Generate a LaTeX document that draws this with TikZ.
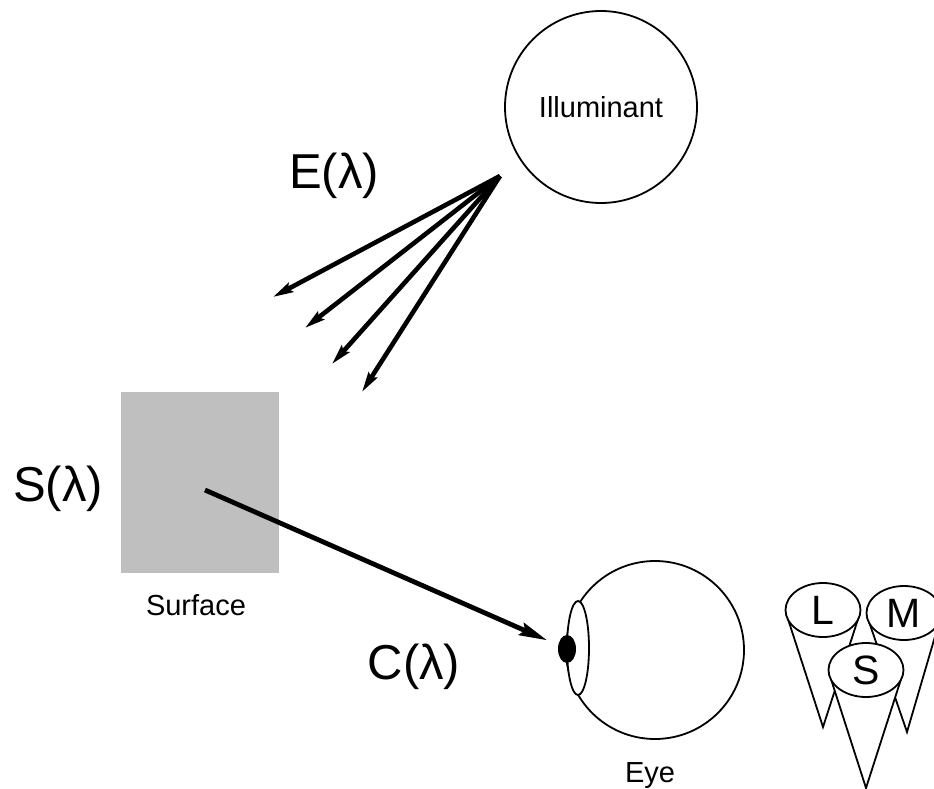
\documentclass[tikz,border=0pt]{standalone}
\usepackage{fontspec}
\setmainfont{Liberation Sans}
\usetikzlibrary{arrows.meta,shapes.geometric}

\tikzset{
  biglabel/.style={font=\fontsize{49}{52}\selectfont, inner sep=0pt, anchor=base},
  smalllabel/.style={font=\fontsize{29}{32}\selectfont, inner sep=0pt, anchor=base},
  outline/.style={draw, line width=1.8pt},
  ray/.style={line width=4.6pt, -{Stealth[length=20pt,width=10pt,inset=3pt]}},
  conetop/.style={ellipse, outline, fill=white, inner sep=0pt,
    minimum width=75pt, minimum height=54pt, font=\fontsize{41}{43}\selectfont},
}

\begin{document}
\begin{tikzpicture}[x=1pt,y=-1pt]
  \useasboundingbox (0,0) rectangle (934,789);
  \clip (0,0) rectangle (934,789);

  % light source and its rays
  \node[circle, outline, minimum size=192pt, inner sep=0pt,
        font=\fontsize{29}{32}\selectfont] (illum) at (601,107) {Illuminant};
  \node[biglabel] (elabel) at (334,188) {E(λ)};
  \coordinate (src) at (500,176);
  \coordinate (r1) at (273,297);
  \coordinate (r2) at (305,328);
  \coordinate (r3) at (332,364);
  \coordinate (r4) at (362,392);
  \foreach \r in {r1,r2,r3,r4}
    \draw[ray] (src) -- (\r);

  % reflecting surface
  \node[fill=black!25, minimum width=158pt, minimum height=181pt, inner sep=0pt]
        (surface) at (200,482.5) {};
  \node[biglabel] (slabel) at (58,501) {S(λ)};
  \node[smalllabel] (surfacetext) at (196,615) {Surface};
  \coordinate (spot) at (205,490);

  % eye
  \node[circle, outline, minimum size=178pt, inner sep=0pt] (eyeball) at (655,650) {};
  \node[ellipse, outline, fill=white, minimum width=22pt, minimum height=94pt,
        inner sep=0pt] (lens) at (578,648) {};
  \node[ellipse, fill=black, minimum width=18pt, minimum height=28pt,
        inner sep=0pt] (pupil) at (567,649) {};
  \node[smalllabel] (eyetext) at (650,782) {Eye};

  \draw[line width=4.8pt, -{Stealth[length=28pt,width=13pt,inset=4pt]},
        shorten >=12pt] (spot) -- (pupil);
  \node[biglabel] (clabel) at (414,679) {C(λ)};

  % cones
  \foreach \cname/\cx/\cy/\tx/\ty in {L/823/610/823/727, M/904/613/907/732, S/866/670/866/788} {
    \filldraw[outline, fill=white] (\cx-37,\cy+3) -- (\tx,\ty) -- (\cx+37,\cy+3);
    \node[conetop] (\cname) at (\cx,\cy) {\cname};
  }
\end{tikzpicture}
\end{document}
